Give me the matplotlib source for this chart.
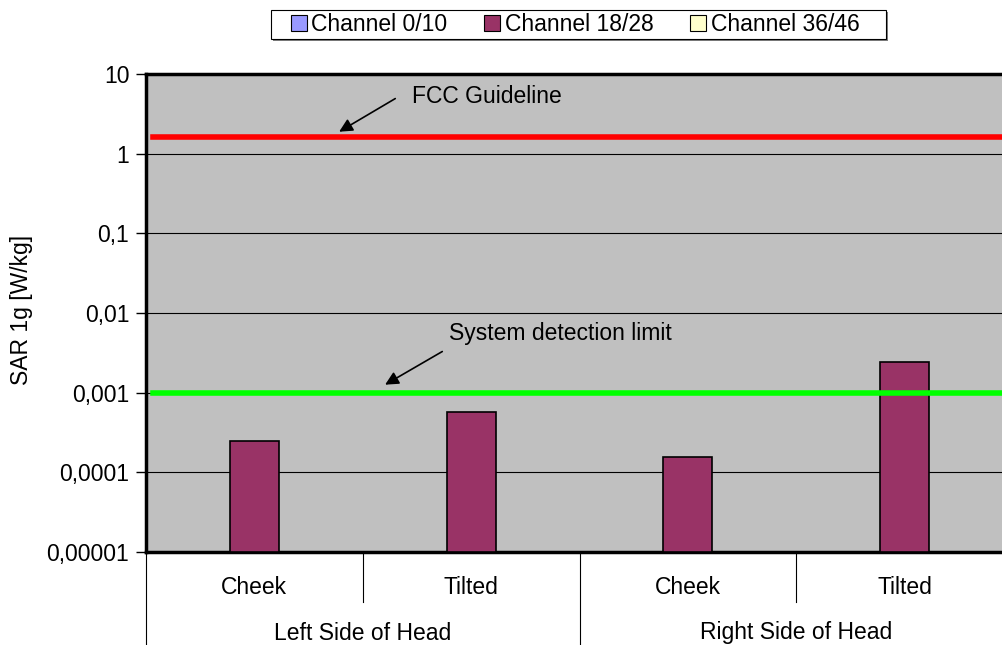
import numpy as np
import matplotlib
matplotlib.use("Agg")
import matplotlib.pyplot as plt
from matplotlib.patches import Patch, Rectangle
from matplotlib.ticker import FixedLocator, NullLocator

plt.rcParams["font.family"] = ["Liberation Sans", "DejaVu Sans"]
FS = 16.5
plt.rcParams["font.size"] = FS

# ---- data ----
positions = ["Cheek", "Tilted", "Cheek", "Tilted"]
sides = ["Left Side of Head", "Right Side of Head"]
series = ["Channel 0/10", "Channel 18/28", "Channel 36/46"]
colors = ["#9999FF", "#993366", "#FFFFCC"]
ch_0_10 = [np.nan, np.nan, np.nan, np.nan]
ch_18_28 = [0.00025, 0.00057, 0.000157, 0.0024]
ch_36_46 = [np.nan, np.nan, np.nan, np.nan]
fcc_limit = 1.6
detection_limit = 0.001
y_ticks = [1e-5, 1e-4, 1e-3, 1e-2, 1e-1, 1, 10]
y_tick_labels = ["0,00001", "0,0001", "0,001", "0,01", "0,1", "1", "10"]

fig = plt.figure(figsize=(10.03, 6.45), dpi=100)
ax = fig.add_axes([146 / 1003, 1 - 552 / 645, 867 / 1003, 478 / 645])
ax.set_facecolor("#C0C0C0")

x = np.arange(len(positions)) + 0.5
bw = 0.226
for k, (vals, c) in enumerate(zip([ch_0_10, ch_18_28, ch_36_46], colors)):
    v = np.array(vals, dtype=float)
    ok = ~np.isnan(v)
    ax.bar(x[ok] + (k - 1) * bw, v[ok] - 1e-5, bottom=1e-5, width=bw,
           color=c, edgecolor="black", linewidth=1.2, zorder=3)

ax.set_yscale("log")
ax.set_ylim(1e-5, 10)
ax.set_xlim(0, 4)
ax.yaxis.set_major_locator(FixedLocator(y_ticks))
ax.yaxis.set_minor_locator(NullLocator())
ax.set_yticklabels(y_tick_labels)
ax.tick_params(axis="y", direction="out", length=7, width=1, pad=5, labelsize=FS)
ax.set_xticks([])
ax.grid(axis="y", color="black", linewidth=0.8, zorder=1)
ax.set_axisbelow(True)
ax.set_ylabel("SAR 1g [W/kg]", fontsize=FS)
ax.yaxis.set_label_coords((33 - 146) / 867, (552 - 310) / 478)

for s in ["left", "bottom", "top"]:
    ax.spines[s].set_linewidth(2.5)
ax.spines["right"].set_visible(False)

# limit lines
ax.plot([0.03, 4], [fcc_limit, fcc_limit], color="#FF0000", linewidth=4, zorder=4)
ax.plot([0.03, 4], [detection_limit, detection_limit], color="#00FF00", linewidth=4, zorder=4)

ax.annotate("", xy=(0.88, 1.81), xytext=(1.161, 5.12),
            arrowprops=dict(arrowstyle="-|>", color="black", lw=1.2, mutation_scale=20), zorder=5)
ax.text(1.226, 5.26, "FCC Guideline", ha="left", va="center", fontsize=FS, zorder=5)
ax.annotate("", xy=(1.092, 1.21e-3), xytext=(1.378, 3.42e-3),
            arrowprops=dict(arrowstyle="-|>", color="black", lw=1.2, mutation_scale=20), zorder=5)
ax.text(1.396, 5.6e-3, "System detection limit", ha="left", va="center", fontsize=FS, zorder=5)

# category axis labels
trans = ax.get_xaxis_transform()
ax_h = 478
for i, lab in enumerate(positions):
    ax.text(i + 0.5, -35 / ax_h, lab, transform=trans, ha="center", va="center", fontsize=FS)
for j, lab in enumerate(sides):
    ax.text(2 * j + 1, -81 / ax_h, lab, transform=trans, ha="center", va="center", fontsize=FS)
for b in [1, 3]:
    ax.plot([b, b], [0, -50 / ax_h], transform=trans, color="black", lw=0.8, clip_on=False)
for b in [0, 2, 4]:
    ax.plot([b, b], [0, -100 / ax_h], transform=trans, color="black", lw=0.8, clip_on=False)

# legend (frame drawn separately, Excel style with a little shadow)
handles = [Patch(facecolor=c, edgecolor="black", linewidth=0.8) for c in colors]
leg = fig.legend(handles, series, loc="center", bbox_to_anchor=(575 / 1003, 1 - 24.5 / 645),
                 ncol=3, frameon=False,
                 handlelength=0.7, handleheight=0.7, handletextpad=0.2,
                 columnspacing=1.6, borderpad=0.2, borderaxespad=0, fontsize=FS)
fig.patches.append(Rectangle((273 / 1003, 1 - 41 / 645), 615 / 1003, 29 / 645,
                             transform=fig.transFigure, facecolor="#808080", edgecolor="none", zorder=0))
fig.patches.append(Rectangle((271 / 1003, 1 - 39 / 645), 615 / 1003, 29 / 645,
                             transform=fig.transFigure, facecolor="white", edgecolor="black",
                             linewidth=0.8, zorder=1))

fig.savefig("out.png", dpi=100)
